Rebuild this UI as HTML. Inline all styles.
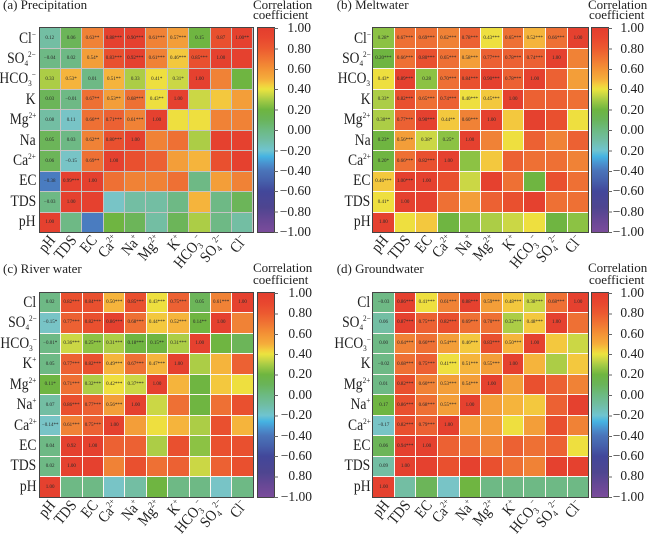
<!DOCTYPE html>
<html><head><meta charset="utf-8">
<style>
*{margin:0;padding:0;box-sizing:border-box}
body{width:650px;height:532px;background:#fff;position:relative;overflow:hidden;font-family:"Liberation Serif","Times New Roman",serif;color:#222}
.t{position:absolute;font-size:13px;line-height:14px;white-space:nowrap}
.g{position:absolute;display:grid;grid-template-columns:repeat(10,1fr);grid-template-rows:repeat(10,1fr);gap:1px;outline:1px solid #444}
.g i{font-style:normal;font-size:5px;display:flex;align-items:center;justify-content:center;color:#2a2a2a;overflow:hidden;white-space:nowrap}
.ga{background:#c4c4c4}
.gw{background:#fbf6f2}
.g .A{background:#e5412f}.g .B{background:#e9502f}.g .C{background:#ec6133}.g .D{background:#ee7034}
.g .E{background:#f08236}.g .F{background:#f39e39}.g .G{background:#f5b43c}.g .H{background:#f3c83e}
.g .I{background:#eedf3f}.g .J{background:#cbd745}.g .K{background:#accd46}.g .L{background:#8cc244}
.g .M{background:#6fb541}.g .N{background:#6cb559}.g .O{background:#6eb985}.g .P{background:#73bea3}
.g .Q{background:#78c4c6}.g .S{background:#4a7cc0}
.rows{position:absolute;display:flex;flex-direction:column}
.rows div{flex:1;display:flex;align-items:center;justify-content:flex-end;font-size:16px;white-space:nowrap}
.rows span{display:inline-block;transform:scaleX(.85);transform-origin:100% 50%}
.rows sup,.rows sub{font-size:8.5px}
.cols{position:absolute;height:0;display:flex}
.cols div{flex:1;position:relative}
.cols span{position:absolute;right:50%;top:-9px;line-height:18px;font-size:15.5px;white-space:nowrap;transform:rotate(-50deg) scaleX(.88);transform-origin:100% 50%}
sup,sub{font-size:9px;line-height:0}
sup{vertical-align:6px}
sub{vertical-align:-3px}
.cb{position:absolute;outline:1px solid #444;background:linear-gradient(to bottom,#e33d2e 0%,#e8472f 5%,#ec5a30 10%,#f07533 15%,#f39235 20%,#f5ad3b 25%,#f3cf3e 28%,#ebe33f 30%,#c5d545 33%,#a8cc45 35%,#6eb540 40%,#69b45a 45%,#6cba82 50%,#70bda4 55%,#6fc4d0 60%,#45b3e2 63%,#4a8ccb 67%,#4a74b9 70%,#4660ab 75%,#42479a 80%,#4e4590 88%,#6a4896 95%,#7a4c9b 100%)}
.tk{position:absolute;width:4px;background:repeating-linear-gradient(to bottom,#666 0,#666 1px,transparent 1px,transparent 20.4px)}
.tl{position:absolute;display:flex;flex-direction:column;justify-content:space-between;text-align:right;font-size:13.5px}
.tl div{line-height:14px;height:14px}
</style></head><body>

<!-- ===== Panel (a) ===== -->
<div class="t" style="left:3px;top:-1.9px">(a) Precipitation</div>
<div class="t" style="left:253px;top:-1.9px">Correlation</div>
<div class="t" style="left:253px;top:8.4px">coefficient</div>
<div class="rows" style="left:0;top:28.3px;width:36px;height:204px">
<div><span>Cl<sup>−</sup></span></div><div><span>SO<sub>4</sub><sup>2−</sup></span></div><div><span>HCO<sub>3</sub><sup>−</sup></span></div><div><span>K</span></div><div><span>Mg<sup>2+</sup></span></div><div><span>Na</span></div><div><span>Ca<sup>2+</sup></span></div><div><span>EC</span></div><div><span>TDS</span></div><div><span>pH</span></div>
</div>
<div class="g ga" style="left:39.5px;top:28.3px;width:213px;height:204px">
<i class="P">0.12</i><i class="N">0.06</i><i class="E">0.63**</i><i class="A">0.88***</i><i class="A">0.90***</i><i class="E">0.61***</i><i class="F">0.57***</i><i class="M">0.15</i><i class="B">0.87</i><i class="A">1.00**</i>
<i class="O">−0.04</i><i class="O">0.02</i><i class="F">0.54*</i><i class="B">0.83***</i><i class="A">0.92***</i><i class="E">0.61***</i><i class="H">0.46***</i><i class="B">0.85***</i><i class="A">1.00</i><i class="A"></i>
<i class="K">0.33</i><i class="G">0.53*</i><i class="O">0.01</i><i class="G">0.51**</i><i class="K">0.33</i><i class="I">0.41*</i><i class="J">0.31*</i><i class="A">1.00</i><i class="E"></i><i class="M"></i>
<i class="N">0.03</i><i class="O">−0.01</i><i class="D">0.67**</i><i class="F">0.53**</i><i class="D">0.68***</i><i class="I">0.43**</i><i class="A">1.00</i><i class="J"></i><i class="H"></i><i class="F"></i>
<i class="P">0.08</i><i class="Q">0.11</i><i class="D">0.66**</i><i class="C">0.71***</i><i class="E">0.61***</i><i class="A">1.00</i><i class="I"></i><i class="I"></i><i class="E"></i><i class="E"></i>
<i class="N">0.05</i><i class="O">0.03</i><i class="E">0.62**</i><i class="B">0.80***</i><i class="A">1.00</i><i class="E"></i><i class="D"></i><i class="K"></i><i class="A"></i><i class="A"></i>
<i class="N">0.06</i><i class="Q">−0.15</i><i class="D">0.69**</i><i class="A">1.00</i><i class="B"></i><i class="C"></i><i class="F"></i><i class="G"></i><i class="B"></i><i class="A"></i>
<i class="S">−0.38</i><i class="A">0.99***</i><i class="A">1.00</i><i class="D"></i><i class="E"></i><i class="E"></i><i class="D"></i><i class="O"></i><i class="F"></i><i class="E"></i>
<i class="O">−0.03</i><i class="A">1.00</i><i class="A"></i><i class="Q"></i><i class="P"></i><i class="P"></i><i class="O"></i><i class="G"></i><i class="O"></i><i class="N"></i>
<i class="A">1.00</i><i class="O"></i><i class="S"></i><i class="M"></i><i class="N"></i><i class="P"></i><i class="N"></i><i class="K"></i><i class="O"></i><i class="P"></i>
</div>
<div class="cols" style="left:42px;top:237.8px;width:213px">
<div><span>pH</span></div><div><span>TDS</span></div><div><span>EC</span></div><div><span>Ca<sup>2+</sup></span></div><div><span>Na<sup>+</sup></span></div><div><span>Mg<sup>2+</sup></span></div><div><span>K<sup>+</sup></span></div><div><span>HCO<sub>3</sub><sup>−</sup></span></div><div><span>SO<sub>4</sub><sup>2−</sup></span></div><div><span>Cl<sup>−</sup></span></div>
</div>
<div class="cb" style="left:258.3px;top:28.3px;width:15.7px;height:204px"></div>
<div class="tk" style="left:274px;top:28.3px;height:205px"></div>
<div class="tl" style="left:271px;top:21.3px;width:40px;height:218px">
<div>1.00</div><div>0.80</div><div>0.60</div><div>0.40</div><div>0.20</div><div>0.00</div><div>−0.20</div><div>−0.40</div><div>−0.60</div><div>−0.80</div><div>−1.00</div>
</div>

<!-- ===== Panel (b) ===== -->
<div class="t" style="left:336.7px;top:-1.9px">(b) Meltwater</div>
<div class="t" style="left:588px;top:-1.9px">Correlation</div>
<div class="t" style="left:589px;top:8.4px">coefficient</div>
<div class="rows" style="left:325px;top:28.3px;width:45.5px;height:204px">
<div><span>Cl<sup>−</sup></span></div><div><span>SO<sub>4</sub><sup>2−</sup></span></div><div><span>HCO<sub>3</sub></span></div><div><span>K</span></div><div><span>Mg<sup>2+</sup></span></div><div><span>Na</span></div><div><span>Ca<sup>2+</sup></span></div><div><span>EC</span></div><div><span>TDS</span></div><div><span>pH</span></div>
</div>
<div class="g gw" style="left:373px;top:28.3px;width:215.3px;height:204px">
<i class="L">0.28*</i><i class="D">0.67***</i><i class="D">0.69***</i><i class="E">0.62***</i><i class="C">0.78***</i><i class="I">0.43***</i><i class="D">0.65***</i><i class="G">0.52***</i><i class="D">0.66***</i><i class="A">1.00</i>
<i class="M">0.20***</i><i class="D">0.66***</i><i class="B">0.80***</i><i class="D">0.65***</i><i class="F">0.58***</i><i class="C">0.77***</i><i class="C">0.78***</i><i class="C">0.74***</i><i class="A">1.00</i><i class="E"></i>
<i class="I">0.43*</i><i class="A">0.89***</i><i class="L">0.28</i><i class="D">0.70***</i><i class="B">0.84***</i><i class="A">0.90***</i><i class="C">0.78***</i><i class="A">1.00</i><i class="C"></i><i class="F"></i>
<i class="K">0.33*</i><i class="B">0.82***</i><i class="D">0.65***</i><i class="C">0.74***</i><i class="I">0.40***</i><i class="H">0.45***</i><i class="A">1.00</i><i class="C"></i><i class="C"></i><i class="D"></i>
<i class="K">0.30**</i><i class="C">0.77***</i><i class="A">0.90***</i><i class="H">0.44**</i><i class="E">0.60***</i><i class="A">1.00</i><i class="H"></i><i class="A"></i><i class="B"></i><i class="I"></i>
<i class="M">0.23*</i><i class="F">0.56***</i><i class="J">0.38*</i><i class="L">0.25*</i><i class="A">1.00</i><i class="E"></i><i class="I"></i><i class="C"></i><i class="E"></i><i class="C"></i>
<i class="M">0.20*</i><i class="D">0.66***</i><i class="B">0.82***</i><i class="A">1.00</i><i class="L"></i><i class="H"></i><i class="C"></i><i class="D"></i><i class="D"></i><i class="E"></i>
<i class="H">0.46***</i><i class="A">1.00***</i><i class="A">1.00</i><i class="B"></i><i class="J"></i><i class="A"></i><i class="D"></i><i class="M"></i><i class="B"></i><i class="D"></i>
<i class="I">0.41*</i><i class="A">1.00</i><i class="A"></i><i class="D"></i><i class="F"></i><i class="C"></i><i class="B"></i><i class="A"></i><i class="D"></i><i class="D"></i>
<i class="A">1.00</i><i class="I"></i><i class="H"></i><i class="M"></i><i class="L"></i><i class="K"></i><i class="J"></i><i class="I"></i><i class="M"></i><i class="L"></i>
</div>
<div class="cols" style="left:375.5px;top:237.8px;width:215.3px">
<div><span>pH</span></div><div><span>TDS</span></div><div><span>EC</span></div><div><span>Ca<sup>2+</sup></span></div><div><span>Na<sup>+</sup></span></div><div><span>Mg<sup>2+</sup></span></div><div><span>K<sup>+</sup></span></div><div><span>HCO<sub>3</sub><sup>−</sup></span></div><div><span>SO<sub>4</sub><sup>2−</sup></span></div><div><span>Cl<sup>−</sup></span></div>
</div>
<div class="cb" style="left:591.7px;top:28.3px;width:16px;height:204px"></div>
<div class="tk" style="left:607.7px;top:28.3px;height:205px"></div>
<div class="tl" style="left:604px;top:21.3px;width:40px;height:218px">
<div>1.00</div><div>0.80</div><div>0.60</div><div>0.40</div><div>0.20</div><div>0.00</div><div>0.20</div><div>−0.40</div><div>−0.60</div><div>−0.80</div><div>−1.00</div>
</div>

<!-- ===== Panel (c) ===== -->
<div class="t" style="left:3px;top:262.1px">(c) River water</div>
<div class="t" style="left:253px;top:260.6px">Correlation</div>
<div class="t" style="left:253px;top:272.6px">coefficient</div>
<div class="rows" style="left:0;top:292.7px;width:36.5px;height:204.3px">
<div><span>Cl</span></div><div><span>SO<sub>4</sub><sup>2−</sup></span></div><div><span>HCO<sub>3</sub><sup>−</sup></span></div><div><span>K<sup>+</sup></span></div><div><span>Mg<sup>2+</sup></span></div><div><span>Na<sup>+</sup></span></div><div><span>Ca<sup>2+</sup></span></div><div><span>EC</span></div><div><span>TDS</span></div><div><span>pH</span></div>
</div>
<div class="g gw" style="left:40px;top:292.7px;width:212.7px;height:204.3px">
<i class="O">0.02</i><i class="B">0.82***</i><i class="B">0.84***</i><i class="G">0.50***</i><i class="B">0.85***</i><i class="I">0.43***</i><i class="C">0.75***</i><i class="N">0.05</i><i class="E">0.61***</i><i class="A">1.00</i>
<i class="Q">−0.15*</i><i class="C">0.77***</i><i class="B">0.82***</i><i class="A">0.86***</i><i class="D">0.68***</i><i class="H">0.44***</i><i class="G">0.52***</i><i class="M">0.14**</i><i class="A">1.00</i><i class="E"></i>
<i class="O">−0.01*</i><i class="J">0.36***</i><i class="L">0.25***</i><i class="K">0.31***</i><i class="M">0.18***</i><i class="M">0.15**</i><i class="K">0.31***</i><i class="A">1.00</i><i class="M"></i><i class="N"></i>
<i class="O">0.05</i><i class="C">0.77***</i><i class="B">0.82***</i><i class="G">0.49***</i><i class="D">0.67***</i><i class="G">0.47***</i><i class="A">1.00</i><i class="K"></i><i class="G"></i><i class="C"></i>
<i class="M">0.11*</i><i class="D">0.71***</i><i class="K">0.32***</i><i class="I">0.42***</i><i class="J">0.37***</i><i class="A">1.00</i><i class="G"></i><i class="M"></i><i class="H"></i><i class="I"></i>
<i class="P">0.07</i><i class="B">0.86***</i><i class="C">0.77***</i><i class="F">0.56***</i><i class="A">1.00</i><i class="J"></i><i class="D"></i><i class="M"></i><i class="D"></i><i class="B"></i>
<i class="Q">−0.14**</i><i class="E">0.61***</i><i class="C">0.75***</i><i class="A">1.00</i><i class="F"></i><i class="I"></i><i class="G"></i><i class="K"></i><i class="B"></i><i class="G"></i>
<i class="O">0.04</i><i class="A">0.92</i><i class="A">1.00</i><i class="C"></i><i class="C"></i><i class="K"></i><i class="B"></i><i class="L"></i><i class="B"></i><i class="B"></i>
<i class="O">0.02</i><i class="A">1.00</i><i class="A"></i><i class="E"></i><i class="B"></i><i class="D"></i><i class="C"></i><i class="J"></i><i class="C"></i><i class="B"></i>
<i class="A">1.00</i><i class="O"></i><i class="O"></i><i class="Q"></i><i class="P"></i><i class="M"></i><i class="O"></i><i class="O"></i><i class="Q"></i><i class="O"></i>
</div>
<div class="cols" style="left:42.5px;top:502.5px;width:212.7px">
<div><span>pH</span></div><div><span>TDS</span></div><div><span>EC</span></div><div><span>Ca<sup>2+</sup></span></div><div><span>Na<sup>+</sup></span></div><div><span>Mg<sup>2+</sup></span></div><div><span>K<sup>+</sup></span></div><div><span>HCO<sub>3</sub><sup>−</sup></span></div><div><span>SO<sub>4</sub><sup>2−</sup></span></div><div><span>Cl<sup>−</sup></span></div>
</div>
<div class="cb" style="left:258.3px;top:292.7px;width:16px;height:204.3px"></div>
<div class="tk" style="left:274.3px;top:292.7px;height:205px"></div>
<div class="tl" style="left:272px;top:285.7px;width:40px;height:218.3px">
<div>1.00</div><div>0.80</div><div>0.60</div><div>0.40</div><div>0.20</div><div>0.00</div><div>−0.20</div><div>−0.40</div><div>−0.60</div><div>0.80</div><div>−1.00</div>
</div>

<!-- ===== Panel (d) ===== -->
<div class="t" style="left:336.7px;top:262.1px">(d) Groundwater</div>
<div class="t" style="left:588px;top:260.6px">Correlation</div>
<div class="t" style="left:589px;top:272.6px">coefficient</div>
<div class="rows" style="left:325px;top:292.7px;width:45.5px;height:204.3px">
<div><span>Cl</span></div><div><span>SO<sub>4</sub><sup>2−</sup></span></div><div><span>HCO<sub>3</sub><sup>−</sup></span></div><div><span>K</span></div><div><span>Mg<sup>2+</sup></span></div><div><span>Na<sup>+</sup></span></div><div><span>Ca<sup>2+</sup></span></div><div><span>EC</span></div><div><span>TDS</span></div><div><span>pH</span></div>
</div>
<div class="g gw" style="left:373.3px;top:292.7px;width:215px;height:204.3px">
<i class="O">−0.03</i><i class="A">0.86***</i><i class="I">0.41***</i><i class="E">0.61***</i><i class="A">0.88***</i><i class="F">0.59***</i><i class="H">0.48***</i><i class="J">0.38***</i><i class="D">0.68***</i><i class="A">1.00</i>
<i class="P">0.06</i><i class="A">0.87***</i><i class="C">0.75***</i><i class="B">0.82***</i><i class="D">0.69***</i><i class="D">0.70***</i><i class="K">0.32***</i><i class="H">0.48***</i><i class="A">1.00</i><i class="D"></i>
<i class="O">0.00</i><i class="E">0.64***</i><i class="D">0.66***</i><i class="F">0.54***</i><i class="H">0.46***</i><i class="B">0.83***</i><i class="G">0.50***</i><i class="A">1.00</i><i class="H"></i><i class="J"></i>
<i class="O">−0.02</i><i class="D">0.68***</i><i class="C">0.75***</i><i class="I">0.41***</i><i class="G">0.51***</i><i class="F">0.55***</i><i class="A">1.00</i><i class="G"></i><i class="K"></i><i class="H"></i>
<i class="O">0.01</i><i class="B">0.82***</i><i class="E">0.60***</i><i class="F">0.53***</i><i class="F">0.54***</i><i class="A">1.00</i><i class="F"></i><i class="B"></i><i class="C"></i><i class="E"></i>
<i class="M">0.17</i><i class="B">0.86***</i><i class="D">0.68***</i><i class="F">0.55***</i><i class="A">1.00</i><i class="F"></i><i class="G"></i><i class="H"></i><i class="C"></i><i class="A"></i>
<i class="Q">−0.17</i><i class="B">0.82***</i><i class="C">0.79***</i><i class="A">1.00</i><i class="F"></i><i class="F"></i><i class="I"></i><i class="F"></i><i class="B"></i><i class="E"></i>
<i class="N">0.06</i><i class="A">0.94***</i><i class="A">1.00</i><i class="C"></i><i class="D"></i><i class="E"></i><i class="C"></i><i class="D"></i><i class="C"></i><i class="I"></i>
<i class="P">0.09</i><i class="A">1.00</i><i class="A"></i><i class="B"></i><i class="A"></i><i class="B"></i><i class="D"></i><i class="E"></i><i class="A"></i><i class="A"></i>
<i class="A">1.00</i><i class="P"></i><i class="N"></i><i class="Q"></i><i class="M"></i><i class="O"></i><i class="O"></i><i class="O"></i><i class="O"></i><i class="O"></i>
</div>
<div class="cols" style="left:375.8px;top:502.5px;width:215px">
<div><span>pH</span></div><div><span>TDS</span></div><div><span>EC</span></div><div><span>Ca<sup>2+</sup></span></div><div><span>Na<sup>+</sup></span></div><div><span>Mg<sup>2+</sup></span></div><div><span>K<sup>+</sup></span></div><div><span>HCO<sub>3</sub><sup>−</sup></span></div><div><span>SO<sub>4</sub><sup>2−</sup></span></div><div><span>Cl<sup>−</sup></span></div>
</div>
<div class="cb" style="left:591.7px;top:292.7px;width:16px;height:204.3px"></div>
<div class="tk" style="left:607.7px;top:292.7px;height:205px"></div>
<div class="tl" style="left:604px;top:285.7px;width:40px;height:218.3px">
<div>1.00</div><div>0.80</div><div>0.60</div><div>0.40</div><div>0.20</div><div>0.00</div><div>−0.20</div><div>−0.40</div><div>−0.60</div><div>0.80</div><div>−1.00</div>
</div>

</body></html>
